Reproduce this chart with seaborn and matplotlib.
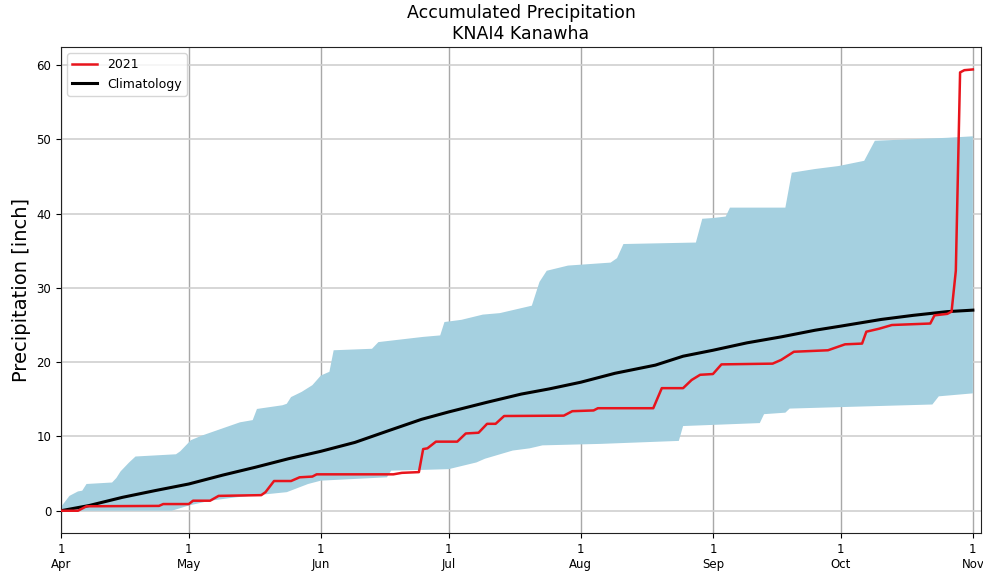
import numpy as np
import pandas as pd
import matplotlib
matplotlib.use("Agg")
import matplotlib.pyplot as plt
import matplotlib.dates as mdates
import seaborn as sns

# days after 1 Apr 2021
start = pd.Timestamp("2021-04-01")

obs_day = [0, 4, 6, 23, 24, 30, 31, 35, 37, 47, 48, 50, 54, 56, 59, 60, 78, 80, 84, 85,
           86, 88, 93, 95, 98, 100, 102, 104, 118, 120, 125, 126, 139, 141, 146, 148,
           150, 153, 155, 167, 169, 172, 180, 182, 184, 188, 189, 192, 195, 204, 205,
           208, 209, 210, 211, 212, 214]
obs_val = [0.0, 0.0, 0.6, 0.65, 0.9, 0.9, 1.35, 1.35, 2.0, 2.1, 2.5, 4.0, 4.0, 4.5, 4.6,
           4.9, 4.9, 5.1, 5.2, 8.3, 8.4, 9.3, 9.3, 10.4, 10.5, 11.7, 11.7, 12.75, 12.8,
           13.4, 13.5, 13.8, 13.8, 16.5, 16.5, 17.6, 18.3, 18.4, 19.7, 19.8, 20.3, 21.4,
           21.6, 22.0, 22.4, 22.5, 24.1, 24.5, 25.0, 25.2, 26.3, 26.5, 26.8, 32.3, 59.0,
           59.3, 59.4]

clim_day = [0, 6.6, 14.4, 22, 30, 38, 45.6, 53.4, 61, 69, 77, 84.6, 91, 100, 108, 114.6,
            122, 130, 139.5, 146, 153, 161, 169, 177, 183, 192.5, 200, 208, 214]
clim_val = [0.0, 0.7, 1.8, 2.7, 3.6, 4.8, 5.85, 7.0, 8.0, 9.2, 10.8, 12.3, 13.3, 14.6,
            15.7, 16.4, 17.3, 18.5, 19.6, 20.8, 21.6, 22.6, 23.4, 24.3, 24.85, 25.75,
            26.3, 26.8, 27.0]

upper_day = [0, 2, 4, 5, 6, 12, 13, 14, 16, 17.5, 27, 28, 29, 30.5, 33, 39, 42, 45, 46,
             52, 53, 54, 56.5, 59, 61, 63, 64, 73, 74.5, 85, 89, 90, 94, 99, 103, 106,
             110.5, 112.3, 114, 119, 129, 130.5, 132, 149, 150.5, 153, 156, 157, 170,
             171.5, 177, 182.5, 188.5, 191, 208, 214]
upper_val = [0.5, 2.0, 2.6, 2.7, 3.6, 3.8, 4.4, 5.3, 6.5, 7.3, 7.6, 8.0, 8.6, 9.5, 10.1,
             11.3, 11.9, 12.2, 13.7, 14.2, 14.4, 15.3, 16.0, 16.9, 18.2, 18.7, 21.6, 21.8,
             22.7, 23.4, 23.6, 25.4, 25.7, 26.4, 26.6, 27.0, 27.6, 30.8, 32.3, 33.0, 33.4,
             34.0, 35.9, 36.1, 39.3, 39.4, 39.6, 40.8, 40.8, 45.5, 46.0, 46.4, 47.1, 49.8,
             50.2, 50.4]

lower_day = [0, 26, 30, 35, 41, 53, 58, 61, 76.5, 77.5, 85, 91, 97.5, 99.5, 106, 110,
             113, 126.7, 145, 146, 164, 165, 170, 171, 186, 204.5, 206, 214]
lower_val = [0.0, 0.0, 0.7, 1.35, 1.8, 2.5, 3.6, 4.05, 4.5, 5.4, 5.5, 5.6, 6.5, 7.0, 8.1,
             8.4, 8.8, 9.0, 9.4, 11.4, 11.8, 13.0, 13.2, 13.75, 14.0, 14.3, 15.4, 15.8]


def to_dates(days):
    return (start + pd.to_timedelta(days, unit="D")).to_numpy()


df_obs = pd.DataFrame({"date": to_dates(obs_day), "precip": obs_val})
df_clim = pd.DataFrame({"date": to_dates(clim_day), "precip": clim_val})

fig, ax = plt.subplots(figsize=(9.83, 5.75), dpi=100)
fig.subplots_adjust(left=0.062, right=0.998, top=0.918, bottom=0.073)

# climatological range as one polygon (upper edge out, lower edge back)
band_x = np.concatenate([to_dates(upper_day), to_dates(lower_day)[::-1]])
band_y = np.concatenate([upper_val, lower_val[::-1]])
ax.fill(band_x, band_y, color="#a5d0e0", linewidth=0, zorder=1)

sns.lineplot(data=df_obs, x="date", y="precip", color="#e8141c", linewidth=1.8,
             estimator=None, sort=False, label="2021", ax=ax, zorder=4)
sns.lineplot(data=df_clim, x="date", y="precip", color="black", linewidth=2.2,
             estimator=None, sort=False, label="Climatology", ax=ax, zorder=3)

ax.set_xlim(pd.Timestamp("2021-04-01"), pd.Timestamp("2021-11-02 22:00"))
ax.set_ylim(-3, 62.4)
ax.xaxis.set_major_locator(mdates.MonthLocator())
ax.xaxis.set_major_formatter(mdates.DateFormatter("%-d\n%b"))
ax.set_yticks([0, 10, 20, 30, 40, 50, 60])
ax.tick_params(labelsize=8.5)

ax.grid(axis="x", color="#a8a8a8", linewidth=1)
ax.grid(axis="y", color="#cfcfcf", linewidth=1.2)
ax.set_axisbelow(True)
for s in ax.spines.values():
    s.set_color("#222222")

ax.set_xlabel("")
ax.set_ylabel("Precipitation [inch]", fontsize=14)
ax.set_title("Accumulated Precipitation\nKNAI4 Kanawha", fontsize=12.5)
ax.legend(loc="upper left", fontsize=9)

plt.savefig("out.png", dpi=100)
plt.close()
